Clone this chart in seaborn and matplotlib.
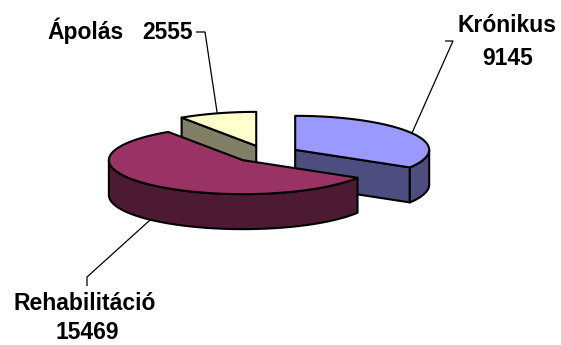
import numpy as np
import matplotlib
matplotlib.use("Agg")
import matplotlib.pyplot as plt
from matplotlib.patches import Polygon
import seaborn as sns

# Data
categories = ["Krónikus", "Rehabilitáció", "Ápolás"]
values = [9145, 15469, 2555]
top_colors = ["#9999FF", "#993366", "#FFFFCC"]
side_colors = ["#4D4D80", "#4D1A33", "#808066"]

sns.set_theme(style="white")
plt.rcParams["font.family"] = ["Liberation Sans", "DejaVu Sans"]

fig = plt.figure(figsize=(5.61, 3.45), dpi=100)
ax = fig.add_axes([0, 0, 1, 1])
ax.set_xlim(0, 561)
ax.set_ylim(345, 0)
ax.axis("off")

# 3D pie geometry (pixel units)
CX, CY = 266, 154
RX, RY = 134, 34
DEPTH = 35
EXPLODE = 0.25
EDGE_LW = 1.5


def proj(theta_deg, ox, oy, z=0.0):
    t = np.radians(theta_deg)
    return ox + RX * np.cos(t), oy - RY * np.sin(t) + z


def arc(t1, t2, ox, oy, z=0.0, n=120):
    th = np.linspace(t1, t2, max(2, int(abs(t2 - t1) / 360 * n) + 2))
    x, y = proj(th, ox, oy, z)
    return np.column_stack([x, y])


# slice angles: start at 12 o'clock, clockwise
total = sum(values)
slices = []
start = 90.0
for name, v, tc, sc in zip(categories, values, top_colors, side_colors):
    sweep = 360.0 * v / total
    t1, t2 = start - sweep, start
    mid = (t1 + t2) / 2
    ox = CX + EXPLODE * RX * np.cos(np.radians(mid))
    oy = CY - EXPLODE * RY * np.sin(np.radians(mid))
    slices.append(dict(name=name, value=v, t1=t1, t2=t2, mid=mid,
                       ox=ox, oy=oy, top=tc, side=sc))
    start = t1

poly_kw = dict(edgecolor="black", linewidth=EDGE_LW, joinstyle="round")

# paint back-to-front
for s in sorted(slices, key=lambda s: -np.sin(np.radians(s["mid"]))):
    t1, t2, ox, oy = s["t1"], s["t2"], s["ox"], s["oy"]
    # radial walls facing the viewer
    for t, visible in ((t1, np.cos(np.radians(t1)) > 1e-6),
                       (t2, np.cos(np.radians(t2)) < -1e-6)):
        if visible:
            rx, ry = proj(t, ox, oy)
            pts = [(ox, oy), (rx, ry), (rx, ry + DEPTH), (ox, oy + DEPTH)]
            ax.add_patch(Polygon(pts, closed=True, facecolor=s["side"], **poly_kw))
    # outer curved wall on the front half
    for k in range(-2, 3):
        a = max(t1, -180 + 360 * k)
        b = min(t2, 360 * k)
        if b - a > 1e-6:
            top = arc(a, b, ox, oy)
            bot = arc(a, b, ox, oy, DEPTH)[::-1]
            ax.add_patch(Polygon(np.vstack([top, bot]), closed=True,
                                 facecolor=s["side"], **poly_kw))
    # top face
    pts = np.vstack([[(ox, oy)], arc(t1, t2, ox, oy)])
    ax.add_patch(Polygon(pts, closed=True, facecolor=s["top"], **poly_kw))

# labels with leader lines
txt_kw = dict(fontsize=16.5, fontweight="bold", color="black")
line_kw = dict(color="black", lw=0.9, solid_capstyle="butt")

by_name = {s["name"]: s for s in slices}


def anchor(s):
    x, y = proj(s["mid"], s["ox"], s["oy"])
    if np.sin(np.radians(s["mid"])) < 0:
        y += DEPTH
    return x, y


# Krónikus
s = by_name["Krónikus"]
ax.text(507, 32, s["name"], ha="center", va="baseline", **txt_kw)
ax.text(508, 65, f"{s['value']}", ha="center", va="baseline", **txt_kw)
px, py = anchor(s)
ax.plot([445, 453, px], [41, 41, py], **line_kw)

# Rehabilitáció
s = by_name["Rehabilitáció"]
ax.text(85, 310, s["name"], ha="center", va="baseline", **txt_kw)
ax.text(87, 339, f"{s['value']}", ha="center", va="baseline", **txt_kw)
px, py = anchor(s)
ax.plot([px, 87, 87], [py, 277, 286], **line_kw)

# Ápolás
s = by_name["Ápolás"]
ax.text(47, 39, s["name"], ha="left", va="baseline", **txt_kw)
ax.text(193, 39, f"{s['value']}", ha="right", va="baseline", **txt_kw)
px, py = anchor(s)
ax.plot([196, 205, px], [32, 32, py], **line_kw)

fig.savefig("out.png", dpi=100, facecolor="white")
